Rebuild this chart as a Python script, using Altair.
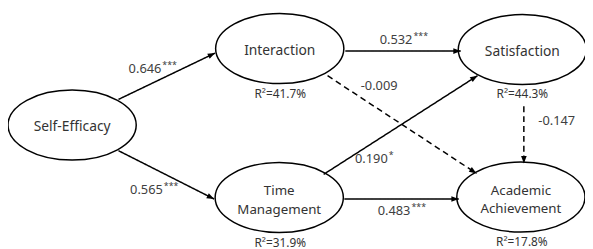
import altair as alt
import pandas as pd

# ---- data (pixel coordinates of the diagram) ----
node_cx = [73, 283.5, 529.5, 283, 528]
node_cy = [125, 47.5, 48.5, 198.5, 198]

text_lines = ["Self-Efficacy", "Interaction", "Satisfaction", "Time", "Management", "Academic", "Achievement"]
text_x = [73, 283.5, 529.5, 283, 283, 528, 528]
text_y = [127, 50, 51, 192.2, 210.8, 191.7, 210.3]
text_size = [14, 14, 14, 13.5, 13.5, 13.5, 13.5]

r2_text = ["R²=41.7%", "R²=44.3%", "R²=31.9%", "R²=17.8%"]
r2_x = [284, 529.5, 284, 529]
r2_y = [94, 94, 245, 244]

edge_x1 = [120, 120, 350, 332, 328, 531, 349]
edge_y1 = [99, 151, 50, 75, 175, 106, 200]
edge_x2 = [218, 217, 467, 483, 484, 531, 465]
edge_y2 = [52, 200, 50, 174, 75, 164, 200]
edge_style = ["solid", "solid", "solid", "dash", "solid", "dash", "solid"]

coef_num = ["0.646", "0.565", "0.532", "-0.009", "0.190", "-0.147", "0.483"]
coef_x = [163.5, 165, 418, 403, 393, 583, 416]   # right edge of the number
coef_y = [68, 191, 39, 85, 159, 121, 212]
star_text = ["***", "***", "***", "*", "***"]
star_x = [163.5, 165, 418, 393, 416]
star_y = [68, 191, 39, 159, 212]

nodes = pd.DataFrame({"cx": node_cx, "cy": node_cy})
texts = pd.DataFrame({"t": text_lines, "x": text_x, "y": text_y, "s": text_size})
r2 = pd.DataFrame({"t": r2_text, "x": r2_x, "y": r2_y})
edges = pd.DataFrame({"x1": edge_x1, "y1": edge_y1, "x2": edge_x2, "y2": edge_y2, "style": edge_style})
coefs = pd.DataFrame({"t": coef_num, "x": coef_x, "y": coef_y})
stars = pd.DataFrame({"t": star_text, "x": star_x, "y": star_y})

W, H = 585, 241
xs = alt.Scale(domain=[8, 8 + W], nice=False, zero=False)
ys = alt.Scale(domain=[8, 8 + H], nice=False, zero=False, reverse=True)
FONT = "Noto Sans"

ell_path = ("M -1 0 C -1 -0.3016 -0.5523 -0.546 0 -0.546 C 0.5523 -0.546 1 -0.3016 1 0 "
            "C 1 0.3016 0.5523 0.546 0 0.546 C -0.5523 0.546 -1 0.3016 -1 0 Z")
arrow_path = "M 0 0 L -0.38 1 L 0.38 1 Z"

X = lambda f: alt.X(f, scale=xs, axis=None)
Y = lambda f: alt.Y(f, scale=ys, axis=None)

ellipses = alt.Chart(nodes).mark_point(shape=ell_path, size=16900, filled=False,
                                       stroke="black", strokeWidth=1.5, opacity=1).encode(
    x=X("cx:Q"), y=Y("cy:Q"))

node_text = alt.Chart(texts).mark_text(font=FONT, color="#333333", baseline="middle").encode(
    x=X("x:Q"), y=Y("y:Q"), text="t:N", size=alt.Size("s:Q", scale=None, legend=None))

r2_layer = alt.Chart(r2).mark_text(font=FONT, fontSize=12, color="#333333", baseline="middle").encode(
    x=X("x:Q"), y=Y("y:Q"), text="t:N")

lines = alt.Chart(edges).mark_rule(color="black", strokeWidth=1.5).encode(
    x=X("x1:Q"), y=Y("y1:Q"), x2="x2:Q", y2="y2:Q",
    strokeDash=alt.StrokeDash("style:N", scale=alt.Scale(domain=["solid", "dash"], range=[[1, 0], [6, 4]]),
                              legend=None))

heads = alt.Chart(edges).transform_calculate(
    ang="(atan2(datum.x2 - datum.x1, datum.y1 - datum.y2) * 180 / PI + 360) % 360"
).mark_point(shape=arrow_path, size=225, filled=True, color="black", opacity=1).encode(
    x=X("x2:Q"), y=Y("y2:Q"),
    angle=alt.Angle("ang:Q", scale=alt.Scale(domain=[0, 360], range=[0, 360])))

nums = alt.Chart(coefs).mark_text(font=FONT, fontSize=13, color="#404040", align="right",
                                  baseline="middle").encode(
    x=X("x:Q"), y=Y("y:Q"), text="t:N")
star_layer = alt.Chart(stars).mark_text(font=FONT, fontSize=9, color="#404040", align="left",
                                        baseline="middle", dx=1, dy=-4).encode(
    x=X("x:Q"), y=Y("y:Q"), text="t:N")

chart = alt.layer(lines, heads, ellipses, node_text, r2_layer, nums, star_layer).properties(
    width=W, height=H, autosize=alt.AutoSizeParams(type="none"), padding=0
).configure_view(stroke=None)

chart.save("out.html", embed_options={"renderer": "svg", "actions": False})
